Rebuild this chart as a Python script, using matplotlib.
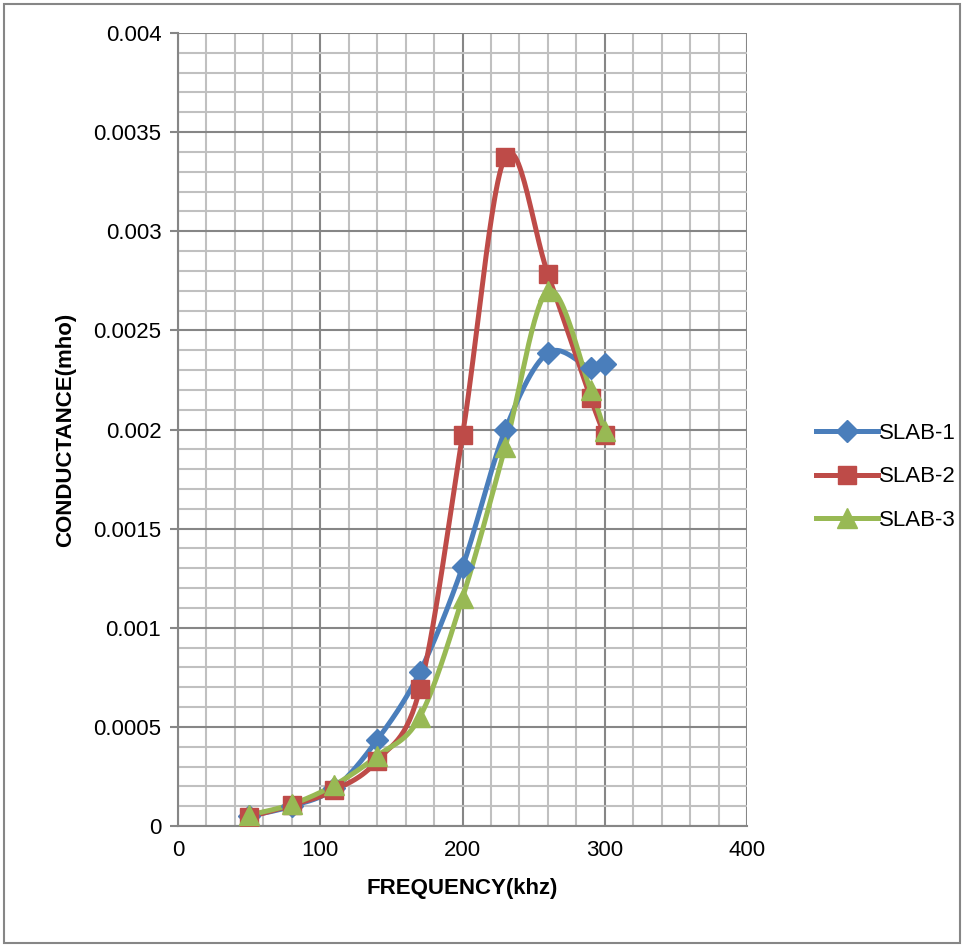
import matplotlib as mpl
mpl.use('Agg')
from matplotlib import pyplot as plt
import numpy as np

plt.rcParams['font.family'] = ['Liberation Sans Narrow', 'Liberation Sans', 'DejaVu Sans']

freq = [50, 80, 110, 140, 170, 200, 230, 260, 290, 300]
slab1 = [0.00005, 0.0001, 0.00019, 0.000434, 0.000777, 0.001306, 0.001997, 0.002386, 0.00231, 0.00233]
slab2 = [0.000045, 0.000106, 0.00018, 0.00033, 0.00069, 0.00197, 0.003375, 0.002785, 0.00216, 0.00197]
slab3 = [0.000055, 0.00011, 0.000207, 0.000353, 0.00055, 0.00115, 0.00191, 0.0027, 0.0022, 0.00199]
labels = ['SLAB-1', 'SLAB-2', 'SLAB-3']
colors = ['#4a7ebb', '#be4b48', '#98b954']
markers = ['D', 's', '^']
msizes = [11, 13, 14]


def smooth(x, y, n=30):
    # Excel-style smoothed line (Catmull-Rom bezier)
    x = np.asarray(x, float)
    y = np.asarray(y, float)
    px = np.concatenate([[x[0]], x, [x[-1]]])
    py = np.concatenate([[y[0]], y, [y[-1]]])
    t = np.linspace(0, 1, n)
    xs, ys = [], []
    for i in range(1, len(px) - 2):
        p0 = np.array([px[i], py[i]])
        p3 = np.array([px[i + 1], py[i + 1]])
        c1 = p0 + (np.array([px[i + 1], py[i + 1]]) - np.array([px[i - 1], py[i - 1]])) / 6
        c2 = p3 - (np.array([px[i + 2], py[i + 2]]) - np.array([px[i], py[i]])) / 6
        b = ((1 - t) ** 3)[:, None] * p0 + (3 * (1 - t) ** 2 * t)[:, None] * c1 \
            + (3 * (1 - t) * t ** 2)[:, None] * c2 + (t ** 3)[:, None] * p3
        xs.append(b[:, 0])
        ys.append(b[:, 1])
    return np.concatenate(xs), np.concatenate(ys)


fig = plt.figure(figsize=(9.69, 9.49), dpi=100)
ax = fig.add_axes([178 / 969, 1 - 826 / 949, (747 - 178) / 969, (826 - 33) / 949])

for s, lab, c, m, ms in zip([slab1, slab2, slab3], labels, colors, markers, msizes):
    sx, sy = smooth(freq, s)
    ax.plot(sx, sy, '-', color=c, linewidth=3.6, solid_capstyle='round', zorder=3)
    ax.plot(freq, s, linestyle='none', marker=m, markersize=ms, color=c, zorder=4)
    ax.plot([], [], '-', color=c, linewidth=3.6, marker=m, markersize=ms, label=lab)

ax.set_xlim(0, 400)
ax.set_ylim(0, 0.004)
ax.set_xticks([0, 100, 200, 300, 400])
ax.set_yticks(np.arange(0, 0.00401, 0.0005))
ax.set_yticklabels(['0', '0.0005', '0.001', '0.0015', '0.002', '0.0025', '0.003', '0.0035', '0.004'])
ax.set_xticks(np.arange(0, 401, 20), minor=True)
ax.set_yticks(np.arange(0, 0.00401, 0.0001), minor=True)

ax.grid(which='minor', color='#c0c0c0', linewidth=1.5, zorder=0)
ax.grid(which='major', color='#868686', linewidth=1.5, zorder=1)
ax.set_axisbelow(True)

for sp in ['top', 'right']:
    ax.spines[sp].set_visible(False)
for sp in ['left', 'bottom']:
    ax.spines[sp].set_color('#868686')
    ax.spines[sp].set_linewidth(1.5)

ax.tick_params(which='major', length=6, width=1.5, color='#868686', labelsize=16, pad=6)
ax.tick_params(which='minor', length=0)
ax.tick_params(axis='x', length=0, pad=10)

ax.set_xlabel('FREQUENCY(khz)', fontsize=16, fontweight='bold', labelpad=12)
ax.set_ylabel('CONDUCTANCE(mho)', fontsize=16, fontweight='bold', labelpad=12)

fig.legend(loc='center left', bbox_to_anchor=(796 / 969, 1 - 477 / 949), frameon=False,
           fontsize=16, handlelength=2.8, handletextpad=0.05, labelspacing=1.0)

fig.patches.append(plt.Rectangle((4 / 969, 6 / 949), 956 / 969, 939 / 949, transform=fig.transFigure,
                                 fill=False, edgecolor='#868686', linewidth=1.5))

plt.savefig('out.png', dpi=100)
plt.close()
